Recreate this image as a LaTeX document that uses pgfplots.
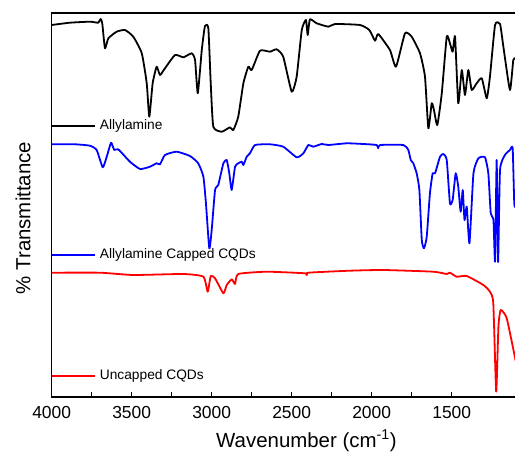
\documentclass[border=0pt]{standalone}
\usepackage{fontspec}
\setmainfont{Liberation Sans}
\usepackage{pgfplots}
\pgfplotsset{compat=1.18}

\begin{document}
\begin{tikzpicture}
\begin{axis}[
    scale only axis,
    width=464.8bp, height=384bp,
    x dir=reverse,
    xmin=1095, xmax=4000,
    ymin=0, ymax=384,
    xtick={1500,2000,2500,3000,3500,4000},
    minor x tick num=1,
    xtick pos=bottom,
    ytick=\empty,
    tick align=inside,
    major tick length=5bp, minor tick length=5bp,
    axis line style={line width=1.1bp},
    every tick/.style={line width=1bp, black},
    /pgf/number format/assume math mode=true,
    /pgf/number format/set thousands separator={},
    xticklabel style={font=\fontsize{17.5}{20}\selectfont, yshift=-6bp},
    xlabel={Wavenumber (cm\textsuperscript{-1})},
    xlabel style={font=\fontsize{20.5}{24}\selectfont, at={(axis description cs:0.548,0)}, anchor=base, yshift=-50bp},
    ylabel={\% Transmittance},
    ylabel style={font=\fontsize{20.5}{24}\selectfont, at={(axis description cs:-0.0617,0.466)}, anchor=center},
    every axis plot/.append style={line width=1.8bp, no markers, line join=round, smooth, tension=0.3},
    clip=true,
]
% Allylamine
\addplot[black] coordinates {
(4000,372) (3886,374.3) (3761,375.3) (3709,374.3) (3694,378) (3684,373.7) (3667,348.7)
(3646,358.7) (3594,365.3) (3542,367) (3490,360.3) (3437,343.7) (3406,313.7) (3390,280.3)
(3369,313.7) (3344,330.3) (3323,322) (3292,328.7) (3229,342) (3177,339.7) (3125,343.7)
(3104,337) (3087,303.7) (3062,347) (3042,371) (3021,368.7) (3006,313.7) (2990,270.3)
(2937,265.3) (2886,269.7) (2865,267) (2834,280.3) (2802,313.7) (2771,330.3) (2750,327)
(2698,346.3) (2636,345.3) (2594,347.7) (2553,340.3) (2500,305.3) (2469,320.3) (2437,367)
(2411,377) (2400,362) (2386,377.7) (2344,373.7) (2271,370.3) (2229,373) (2073,372)
(2015,367) (1979,356.3) (1959,363) (1886,347) (1848,330.3) (1792,363.7) (1750,360.3)
(1698,343.7) (1667,320.3) (1646,268.7) (1625,293.7) (1611,287) (1590,272) (1562,303.7)
(1531,360.3) (1511,353.7) (1494,345.3) (1479,360.3) (1459,293.7) (1437,327) (1417,302)
(1396,327) (1375,307) (1344,313.7) (1312,318.7) (1281,298.7) (1261,320.3) (1229,372)
(1198,373) (1177,350.3) (1136,307) (1115,337) (1100,338.7)
};
% Allylamine Capped CQDs
\addplot[blue] coordinates {
(4000,252.7) (3854,252.7) (3761,251.3) (3719,247) (3681,229.7) (3656,240.3) (3629,254.3)
(3609,247) (3584,247.7) (3511,235.3) (3448,228) (3386,230.3) (3344,233.7) (3323,232.7)
(3292,242) (3219,245.3) (3136,241) (3084,233.7) (3052,220.3) (3036,193.7) (3015,148.7)
(3000,167) (2979,207) (2959,212) (2927,233.7) (2906,237) (2890,223.7) (2875,207)
(2854,230.3) (2834,233.7) (2812,235.3) (2802,232) (2781,240.3) (2761,243.7) (2729,252)
(2636,252.7) (2553,250.3) (2469,239.7) (2427,243.7) (2396,252) (2365,250.3) (2312,253)
(2271,252) (2156,253.7) (2052,253) (1969,252) (1959,248.7) (1948,252) (1802,252)
(1771,247) (1756,237) (1740,233.7) (1719,223.7) (1702,207) (1687,157) (1673,148.7)
(1656,160.3) (1636,203.7) (1619,223.7) (1604,223.7) (1573,240.3) (1552,243) (1531,237)
(1511,193.7) (1494,197) (1475,223.7) (1459,210.3) (1444,185.3) (1431,207) (1420,177)
(1406,190.3) (1389,153.7) (1364,223.7) (1333,238.7) (1292,239.7) (1271,223.7) (1256,183.7)
(1239,177) (1229,135.3) (1219,237) (1210,135) (1198,227) (1167,242) (1136,247)
(1119,248.7) (1109,193.7) (1100,190)
};
% Uncapped CQDs
\addplot[red] coordinates {
(4000,124.3) (3698,124.3) (3490,122) (3177,123) (3052,120.3) (3025,105.3) (3006,121)
(2979,118.7) (2927,103.7) (2906,112) (2875,117.7) (2854,113) (2834,123) (2656,125.3)
(2417,123.7) (2406,122) (2396,124.3) (2136,126.3) (1927,127) (1615,125.3) (1531,123)
(1511,124.3) (1469,120.3) (1406,121) (1302,112) (1261,105.3) (1240,93.7) (1222,5.3)
(1208,70.3) (1194,87) (1156,78.7) (1100,36)
};
% labels
\addplot[black, sharp plot] coordinates {(4000,271) (3729,271)};
\addplot[blue, sharp plot] coordinates {(4000,142) (3729,142)};
\addplot[red, sharp plot] coordinates {(4000,21) (3729,21)};
\node[anchor=west, inner sep=0pt, font=\fontsize{13.8}{16}\selectfont] at (axis cs:3700,271) {Allylamine};
\node[anchor=west, inner sep=0pt, font=\fontsize{13.8}{16}\selectfont] at (axis cs:3700,142) {Allylamine Capped CQDs};
\node[anchor=west, inner sep=0pt, font=\fontsize{13.8}{16}\selectfont] at (axis cs:3700,21) {Uncapped CQDs};
\end{axis}
\pgfresetboundingbox
\path ([shift={(-51.7bp,-65bp)}]current axis.south west) rectangle ([shift={(463.3bp,397bp)}]current axis.south west);
\end{tikzpicture}
\end{document}
